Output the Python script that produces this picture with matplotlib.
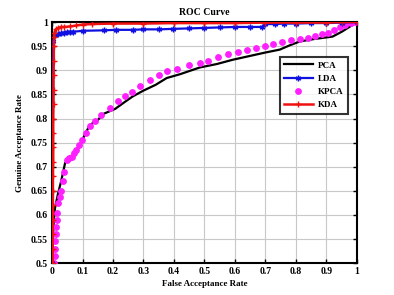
import matplotlib
matplotlib.use("Agg")
import matplotlib.pyplot as plt
from matplotlib.ticker import FuncFormatter

# ---- data ----
pca_x = [0, 0.003, 0.006, 0.01, 0.015, 0.02, 0.03, 0.043, 0.05, 0.06, 0.08, 0.097, 0.11, 0.125,
         0.15, 0.17, 0.207, 0.24, 0.265, 0.3, 0.34, 0.376, 0.42, 0.485, 0.54, 0.593, 0.65,
         0.7, 0.747, 0.78, 0.813, 0.86, 0.92, 0.95, 1.0]
pca_y = [0.5, 0.55, 0.59, 0.615, 0.63, 0.645, 0.67, 0.708, 0.712, 0.718, 0.73, 0.752, 0.77, 0.787,
         0.797, 0.81, 0.82, 0.835, 0.846, 0.858, 0.87, 0.884, 0.892, 0.906, 0.913, 0.922, 0.93,
         0.937, 0.943, 0.952, 0.96, 0.965, 0.97, 0.98, 1.0]

kpca_x = [0.008, 0.009, 0.01, 0.011, 0.012, 0.013, 0.015, 0.016, 0.02, 0.025, 0.03, 0.035,
          0.04, 0.048, 0.056, 0.064, 0.072, 0.08, 0.088, 0.097, 0.11, 0.125, 0.14, 0.16, 0.19,
          0.215, 0.24, 0.261, 0.29, 0.32, 0.35, 0.376, 0.41, 0.45, 0.485, 0.51, 0.545, 0.578,
          0.61, 0.638, 0.668, 0.698, 0.725, 0.753, 0.783, 0.813, 0.84, 0.862, 0.885, 0.905,
          0.925, 0.944, 0.962, 0.98, 0.995]
kpca_y = [0.5, 0.515, 0.53, 0.545, 0.56, 0.575, 0.59, 0.605, 0.624, 0.637, 0.65, 0.67,
          0.69, 0.714, 0.718, 0.721, 0.728, 0.735, 0.745, 0.755, 0.77, 0.785, 0.795, 0.808, 0.822,
          0.836, 0.846, 0.856, 0.868, 0.88, 0.89, 0.899, 0.903, 0.912, 0.916, 0.919, 0.927, 0.934,
          0.938, 0.942, 0.946, 0.95, 0.954, 0.958, 0.962, 0.965, 0.968, 0.971, 0.975, 0.978,
          0.983, 0.989, 0.994, 0.999, 1.0]

lda_x = [0, 0.004, 0.01, 0.02, 0.03, 0.04, 0.05, 0.06, 0.07, 0.1, 0.17, 0.21, 0.265, 0.3,
         0.35, 0.397, 0.45, 0.5, 0.55, 0.6, 0.65, 0.69, 0.7, 0.73, 0.76, 0.8, 0.85, 0.9, 0.95, 1.0]
lda_y = [0.5, 0.96, 0.974, 0.976, 0.977, 0.978, 0.979, 0.979, 0.98, 0.982, 0.983, 0.984, 0.984, 0.985,
         0.985, 0.986, 0.987, 0.988, 0.989, 0.99, 0.99, 0.99, 0.996, 0.996, 0.997, 0.997, 0.998, 0.998, 0.999, 1.0]

kda_x = [0.002, 0.002, 0.002, 0.003, 0.003, 0.003, 0.003, 0.004, 0.004, 0.004, 0.004, 0.005,
         0.005, 0.005, 0.006, 0.006, 0.007, 0.008, 0.012, 0.02, 0.03, 0.04, 0.06, 0.08, 0.1,
         0.13, 0.2, 0.3, 0.4, 0.5, 0.6, 0.7, 0.8, 0.9, 0.95, 1.0]
kda_y = [0.5, 0.53, 0.56, 0.59, 0.62, 0.65, 0.68, 0.71, 0.74, 0.77, 0.8, 0.83,
         0.86, 0.89, 0.92, 0.95, 0.97, 0.978, 0.985, 0.988, 0.99, 0.99, 0.991, 0.993, 0.995,
         0.996, 0.997, 0.997, 0.998, 0.998, 0.998, 0.999, 0.999, 0.999, 1.0, 1.0]

x_ticks = [0, 0.1, 0.2, 0.3, 0.4, 0.5, 0.6, 0.7, 0.8, 0.9, 1]
y_ticks = [0.5, 0.55, 0.6, 0.65, 0.7, 0.75, 0.8, 0.85, 0.9, 0.95, 1]

# ---- plot ----
plt.rcParams['font.family'] = ['Liberation Serif', 'DejaVu Serif']
plt.rcParams['font.weight'] = 'bold'

fig = plt.figure(figsize=(3.94, 2.95), dpi=100)
ax = fig.add_axes([0.132, 0.108, 0.774, 0.817])

ax.plot(pca_x, pca_y, color='black', lw=1.6, label='PCA', zorder=3)
ax.plot(lda_x, lda_y, color='#1010e0', lw=1.6, marker=(6, 2, 0), ms=4, mew=1.0, label='LDA', zorder=4)
ax.plot(kpca_x, kpca_y, color='#ff20ff', lw=0, marker='o', ms=3.9, mec='#ff20ff', label='KPCA', zorder=3)
ax.plot(kda_x, kda_y, color='#f01010', lw=1.8, marker='+', ms=5, mew=1.0, label='KDA', zorder=5)

ax.set_xlim(0, 1)
ax.set_ylim(0.5, 1)
ax.set_xticks(x_ticks)
ax.set_yticks(y_ticks)
ax.xaxis.set_major_formatter(FuncFormatter(lambda v, p: '%g' % v))
ax.yaxis.set_major_formatter(FuncFormatter(lambda v, p: '%g' % v))
ax.tick_params(direction='in', length=3, width=1, labelsize=7, top=True, right=True, pad=3)
for lab in ax.get_xticklabels() + ax.get_yticklabels():
    lab.set_fontweight('bold')
ax.grid(True, color='#c8c8c8', lw=0.8)
ax.set_axisbelow(True)
for s in ax.spines.values():
    s.set_linewidth(1.5)

ax.set_title('ROC Curve', fontsize=7, fontweight='bold', pad=5)
ax.set_xlabel('False Acceptance Rate', fontsize=6.5, fontweight='bold', labelpad=3)
ax.set_ylabel('Genuine Acceptance Rate', fontsize=6.5, fontweight='bold', labelpad=5)

leg = ax.legend(loc='upper right', bbox_to_anchor=(0.987, 0.875), fontsize=6.5, frameon=True,
                fancybox=False, edgecolor='black', handlelength=3.2, borderpad=0.5,
                labelspacing=0.55, handletextpad=0.6)
leg.get_frame().set_linewidth(1.5)
for t in leg.get_texts():
    t.set_fontweight('bold')

fig.savefig('out.png', dpi=100)
